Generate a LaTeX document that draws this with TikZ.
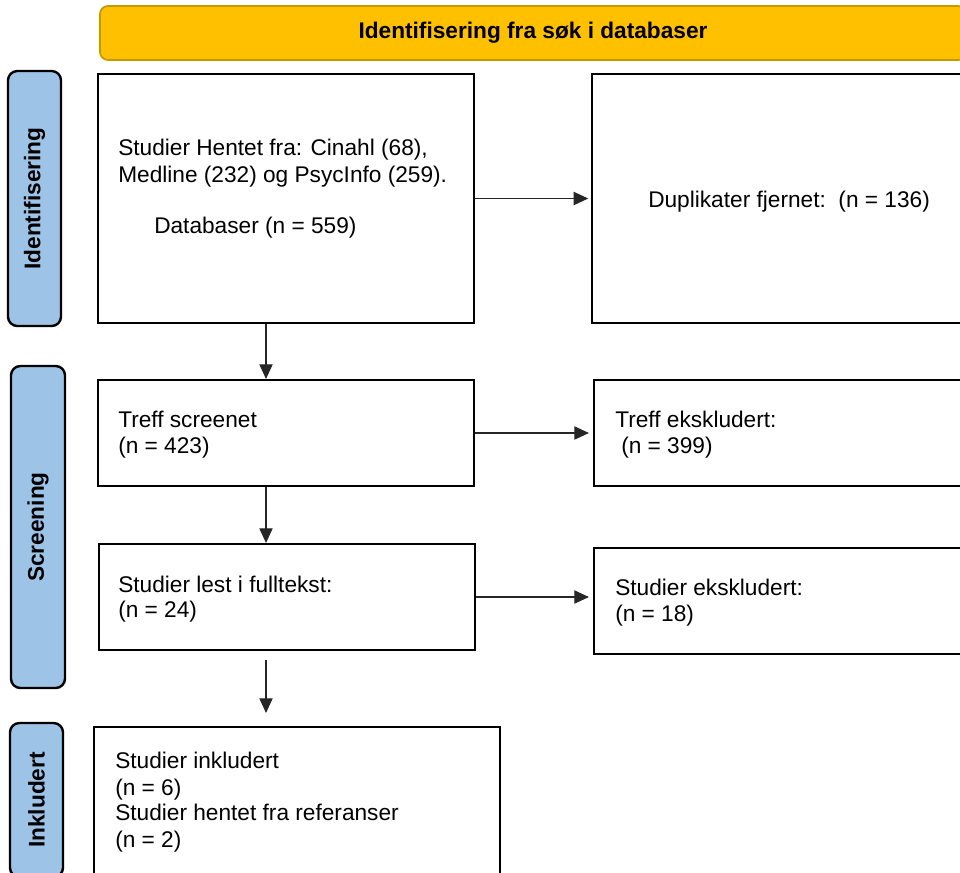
\documentclass[tikz,border=0pt]{standalone}
\usepackage{fontspec}
\setmainfont{Liberation Sans}
\usetikzlibrary{arrows.meta,calc}
\definecolor{bannerfill}{HTML}{FFC000}
\definecolor{bannerline}{HTML}{C49A00}
\definecolor{labfill}{HTML}{9DC3E6}
\begin{document}
\begin{tikzpicture}[x=0.75pt,y=-0.75pt,
  every node/.style={font=\fontsize{17pt}{20pt}\selectfont, inner sep=0pt},
  box/.style={draw=black, line width=1.6pt, fill=white, rectangle},
  banner/.style={draw=bannerline, fill=bannerfill, line width=1.3pt, rounded corners=6pt,
    font=\fontsize{17pt}{20pt}\selectfont\bfseries},
  phase/.style={draw=black, line width=1.8pt, fill=labfill, rounded corners=7pt, rotate=90,
    font=\fontsize{17pt}{20pt}\selectfont\bfseries},
  txt/.style={anchor=base west},
  arr/.style={draw=black!85, line width=0.8pt, -{Triangle[length=11pt,width=10pt]}}]
\useasboundingbox (0,0) rectangle (960,872);
\clip (0,0) rectangle (960,872);

% banner
\node[banner, minimum width=649.5pt, minimum height=40.5pt] (ban) at (533,33) {Identifisering fra søk i databaser};

% phase labels
\node[phase, minimum width=191.25pt, minimum height=39.75pt] (p1) at (34.5,198.5) {Identifisering};
\node[phase, minimum width=241.5pt, minimum height=40.5pt] (p2) at (38,527) {Screening};
\node[phase, minimum width=115.5pt, minimum height=39.75pt] (p3) at (36.5,800) {Inkludert};

% boxes
\node[box, minimum width=282pt, minimum height=186.75pt] (b1) at (286,198.5) {};
\node[box, minimum width=287.25pt, minimum height=186.75pt] (b2) at (783.5,198.5) {};
\node[box, minimum width=282pt, minimum height=79.5pt] (b3) at (286,433) {};
\node[box, minimum width=285.75pt, minimum height=79.5pt] (b4) at (784.5,433) {};
\node[box, minimum width=282pt, minimum height=79.5pt] (b5) at (287,597) {};
\node[box, minimum width=285.75pt, minimum height=79.5pt] (b6) at (784.5,601) {};
\node[box, minimum width=304.5pt, minimum height=114.75pt] (b7) at (297,803.5) {};

% texts
\node[txt] (t1a) at (118,155) {Studier Hentet fra: Cinahl (68),};
\node[txt] (t1b) at (118,182) {Medline (232) og PsycInfo (259).};
\node[txt] (t1c) at (154,233) {Databaser (n = 559)};
\node[txt] (t2a) at (648,207) {Duplikater fjernet:~~(n = 136)};
\node[txt] (t3a) at (118,427) {Treff screenet};
\node[txt] (t3b) at (118,453) {(n = 423)};
\node[txt] (t4a) at (615,427) {Treff ekskludert:};
\node[txt] (t4b) at (621,453) {(n = 399)};
\node[txt] (t5a) at (118,592) {Studier lest i fulltekst:};
\node[txt] (t5b) at (118,617) {(n = 24)};
\node[txt] (t6a) at (615,595) {Studier ekskludert:};
\node[txt] (t6b) at (615,621) {(n = 18)};
\node[txt] (t7a) at (115,768) {Studier inkludert};
\node[txt] (t7b) at (115,795) {(n = 6)};
\node[txt] (t7c) at (115,820) {Studier hentet fra referanser};
\node[txt] (t7d) at (115,847) {(n = 2)};

% connectors
\coordinate (vx) at (266,0);
\draw[arr] (b1.south -| vx) -- (b3.north -| vx);
\draw[arr] (b3.south -| vx) -- (b5.north -| vx);
\draw[arr, shorten <=6.75pt, shorten >=9.75pt] (b5.south -| vx) -- (b7.north -| vx);
\draw[arr, shorten >=2pt] (b1.east) -- (b2.west |- b1.east);
\draw[arr, shorten >=3pt] (b3.east) -- (b4.west |- b3.east);
\draw[arr, shorten >=3pt] (b5.east) -- (b6.west |- b5.east);
\end{tikzpicture}
\end{document}
